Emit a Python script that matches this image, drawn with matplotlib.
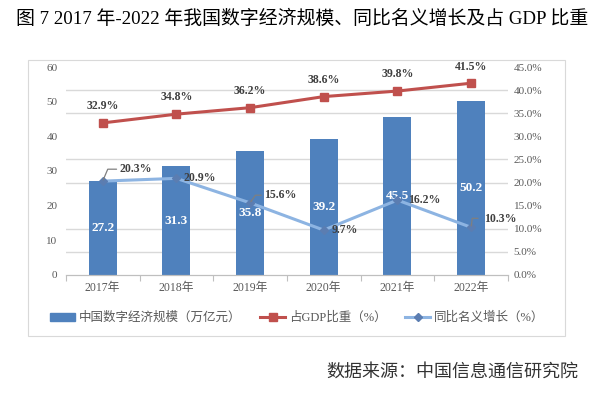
import matplotlib

matplotlib.use("Agg")
import matplotlib.pyplot as plt
import numpy as np
from matplotlib.lines import Line2D
from matplotlib.patches import Patch, Rectangle
from matplotlib.ticker import FixedLocator, PercentFormatter

# data
years = ["2017年", "2018年", "2019年", "2020年", "2021年", "2022年"]
scale = [27.2, 31.3, 35.8, 39.2, 45.5, 50.2]          # 万亿元
gdp_share = [32.9, 34.8, 36.2, 38.6, 39.8, 41.5]      # %
growth = [20.3, 20.9, 15.6, 9.7, 16.2, 10.3]          # %
# label offset (points) and leader line (end offset, angle) or None
growth_offsets = [(12, 9), (5, 0), (10, 5.5), (6, 0), (8, 0), (9.5, 6)]
growth_leaders = [((10, 8.6), 67), None, ((8, 5.5), 55), None, None, ((5, 6.5), 83)]

SERIF = ["Liberation Serif", "Noto Sans CJK SC"]
BAR_C = "#4F81BD"
RED_C = "#C0504D"
LB_C = "#8DB4E2"
DIA_C = "#5B7DB1"
GRAY = "#595959"


def main() -> None:
    plt.rcParams["font.family"] = SERIF
    fig = plt.figure(figsize=(6.04, 3.99), dpi=100)
    ax = fig.add_axes([0.109, 0.311, 0.732, 0.521])
    ax2 = ax.twinx()

    x = np.arange(len(years))
    bars = ax.bar(x, scale, width=0.38, color=BAR_C, zorder=2)
    for rect, v in zip(bars, scale):
        ax.text(rect.get_x() + rect.get_width() / 2, v / 2, f"{v:.1f}",
                ha="center", va="center", color="white", fontsize=9.5,
                fontweight="bold", zorder=3)

    ax.set_xlim(-0.5, len(years) - 0.5)
    ax.set_ylim(0, 60)
    ax.set_yticks(np.arange(0, 61, 10))
    ax.yaxis.set_minor_locator(FixedLocator(np.linspace(0, 60, 10)))
    ax.grid(which="minor", axis="y", color="#D9D9D9", linewidth=1.0, zorder=0)
    ax.set_axisbelow(True)
    ax.set_xticks(x)
    ax.set_xticklabels(years)
    ax.xaxis.set_minor_locator(FixedLocator(np.arange(-0.5, len(years), 1.0)))
    ax.tick_params(axis="x", which="major", length=0, pad=5, labelsize=8.5,
                   labelcolor=GRAY)
    ax.tick_params(axis="x", which="minor", length=4, color="#BFBFBF", width=0.8)
    ax.tick_params(axis="y", which="both", length=0, pad=6, labelsize=8,
                   labelcolor=GRAY)

    ax2.set_ylim(0, 45)
    ax2.set_yticks(np.arange(0, 46, 5))
    ax2.yaxis.set_major_formatter(PercentFormatter(decimals=1))
    ax2.tick_params(axis="y", length=0, pad=4, labelsize=8, labelcolor=GRAY)

    for a in (ax, ax2):
        for side in ("top", "left", "right"):
            a.spines[side].set_visible(False)
        a.spines["bottom"].set_color("#BFBFBF")
        a.spines["bottom"].set_linewidth(0.8)

    ax2.plot(x, gdp_share, color=RED_C, linewidth=2.2, marker="s",
             markersize=6, zorder=3)
    for xi, v in zip(x, gdp_share):
        ax2.annotate(f"{v:.1f}%", (xi, v), xytext=(0, 12),
                     textcoords="offset points", ha="center", va="center",
                     fontsize=8.5, fontweight="bold", color="#404040")

    ax2.plot(x, growth, color=LB_C, linewidth=2.2, marker="D",
             markersize=4.5, markerfacecolor=DIA_C, markeredgecolor=DIA_C,
             zorder=3)
    for xi, v, off, lead in zip(x, growth, growth_offsets, growth_leaders):
        ax2.annotate(f"{v:.1f}%", (xi, v), xytext=off,
                     textcoords="offset points", ha="left", va="center",
                     fontsize=8.5, fontweight="bold", color="#404040", zorder=4)
        if lead is not None:
            end, ang = lead
            ax2.annotate("", (xi, v), xytext=end, textcoords="offset points",
                         arrowprops=dict(arrowstyle="-", color="#7F7F7F",
                                         linewidth=0.9, shrinkA=0, shrinkB=1,
                                         connectionstyle=f"angle,angleA=0,angleB={ang},rad=0"),
                         zorder=4)

    handles = [
        Patch(facecolor=BAR_C, edgecolor=BAR_C),
        Line2D([], [], color=RED_C, linewidth=2.2, marker="s", markersize=6),
        Line2D([], [], color=LB_C, linewidth=2.2, marker="D", markersize=4.5,
               markerfacecolor=DIA_C, markeredgecolor=DIA_C),
    ]
    labels = ["中国数字经济规模（万亿元）", "占GDP比重（%）", "同比名义增长（%）"]
    leg = fig.legend(handles, labels, loc="center", bbox_to_anchor=(0.492, 0.203),
                     ncol=3, frameon=False, fontsize=9, handlelength=2.0,
                     handleheight=0.6, handletextpad=0.3, columnspacing=1.5)
    for t in leg.get_texts():
        t.set_color(GRAY)

    fig.patches.append(Rectangle((28 / 604, 1 - 336 / 399), (565 - 28) / 604,
                                 (336 - 60) / 399, transform=fig.transFigure,
                                 fill=False, edgecolor="#D9D9D9", linewidth=0.8))

    fig.text(0.5, 0.953, "图 7 2017 年-2022 年我国数字经济规模、同比名义增长及占 GDP 比重",
             ha="center", va="center", fontsize=13.6, color="black")
    fig.text(0.957, 0.068, "数据来源：中国信息通信研究院", ha="right", va="center",
             fontsize=13, color="#333333", family=["Noto Sans CJK SC"],
             fontweight="light")

    fig.savefig("out.png", dpi=100)
    plt.close(fig)


if __name__ == "__main__":
    main()
